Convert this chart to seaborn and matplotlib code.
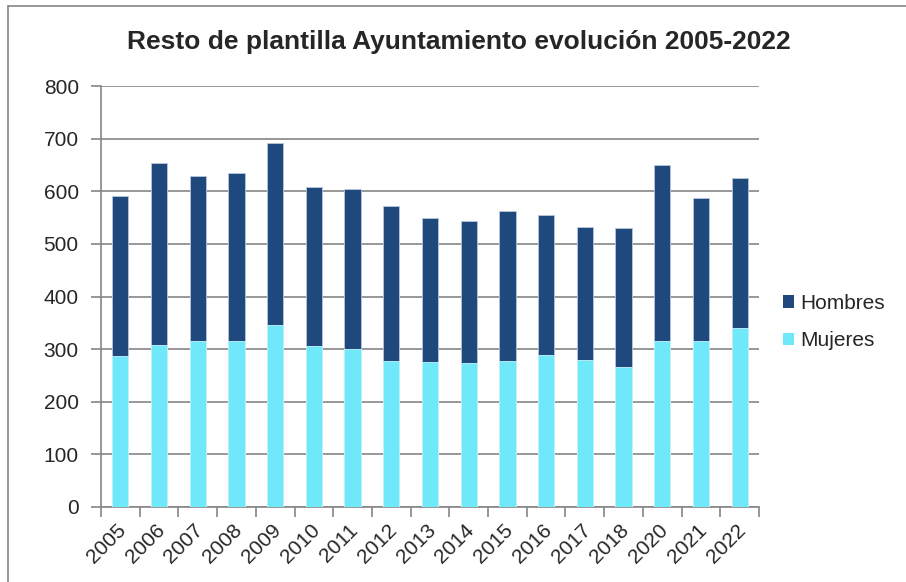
import matplotlib
matplotlib.use("Agg")
import matplotlib.pyplot as plt
import seaborn as sns
import pandas as pd
from matplotlib.lines import Line2D
from matplotlib.patches import Patch
from matplotlib.transforms import ScaledTranslation

years = ["2005", "2006", "2007", "2008", "2009", "2010", "2011", "2012", "2013",
         "2014", "2015", "2016", "2017", "2018", "2020", "2021", "2022"]
mujeres = [287, 307, 315, 315, 345, 305, 300, 278, 276, 274, 278, 288, 279, 266, 316, 316, 340]
hombres = [304, 346, 314, 319, 346, 303, 304, 294, 273, 270, 285, 266, 253, 265, 334, 271, 286]
y_ticks = [0, 100, 200, 300, 400, 500, 600, 700, 800]

c_h = "#1F497D"
c_m = "#6FE9F9"
grid_c = "#868686"

sns.set_theme(style="white")
plt.rcParams["font.family"] = ["Liberation Sans", "DejaVu Sans"]

df = pd.DataFrame({"year": years, "mujeres": mujeres, "hombres": hombres})
df["total"] = df["mujeres"] + df["hombres"]

fig = plt.figure(figsize=(9.06, 5.82), dpi=100)
ax = fig.add_axes([101/906, 1-507/582, (759-101)/906, (507-86)/582])

sns.barplot(data=df, x="year", y="total", color=c_h, width=0.42, saturation=1,
            edgecolor="#B8C7DA", linewidth=0.6, ax=ax, zorder=3)
sns.barplot(data=df, x="year", y="mujeres", color=c_m, width=0.42, saturation=1,
            edgecolor="#C8F6FC", linewidth=0.6, ax=ax, zorder=4)

ax.set_ylim(0, 800)
ax.set_xlim(-0.5, len(years) - 0.5)
ax.set_yticks(y_ticks)
ax.set_yticklabels([str(v) for v in y_ticks], fontsize=15)
ax.yaxis.grid(True, color=grid_c, linewidth=1.2, zorder=0)
ax.set_axisbelow(True)
ax.set_xlabel("")
ax.set_ylabel("")

# x ticks at category boundaries, labels at centers
ax.set_xticks([i for i in range(len(years))])
ax.set_xticklabels(years, rotation=45, ha="right", rotation_mode="anchor", fontsize=15)
ax.set_xticks([i - 0.5 for i in range(len(years) + 1)], minor=True)
ax.tick_params(axis="x", which="major", length=0, pad=10)
ax.tick_params(axis="x", which="minor", length=7, width=1.2, color=grid_c, direction="out", bottom=True)
ax.tick_params(axis="y", length=7, width=1.2, color=grid_c, direction="out", left=True, pad=9)
for lbl in ax.get_xticklabels():
    lbl.set_transform(lbl.get_transform() + ScaledTranslation(-4/100, 0, fig.dpi_scale_trans))

for s in ["top", "right"]:
    ax.spines[s].set_visible(False)
for s in ["left", "bottom"]:
    ax.spines[s].set_color(grid_c)
    ax.spines[s].set_linewidth(1.2)

fig.text(459/906, 1-42/582, "Resto de plantilla Ayuntamiento evolución 2005-2022",
         ha="center", va="center", fontsize=19, fontweight="bold")

handles = [Patch(facecolor=c_h, edgecolor="none"), Patch(facecolor=c_m, edgecolor="none")]
fig.legend(handles, ["Hombres", "Mujeres"], loc="center left",
           bbox_to_anchor=(783/906, 1-322/582), frameon=False, fontsize=15,
           handlelength=0.55, handleheight=0.55, handletextpad=0.3, labelspacing=0.9,
           borderaxespad=0, borderpad=0)

# outer chart border (left and top visible)
fig.add_artist(Line2D([8/906, 8/906], [0, 1-6/582], transform=fig.transFigure, color=grid_c, linewidth=1.2))
fig.add_artist(Line2D([8/906, 1], [1-6/582, 1-6/582], transform=fig.transFigure, color=grid_c, linewidth=1.2))

fig.savefig("out.png", dpi=100)
